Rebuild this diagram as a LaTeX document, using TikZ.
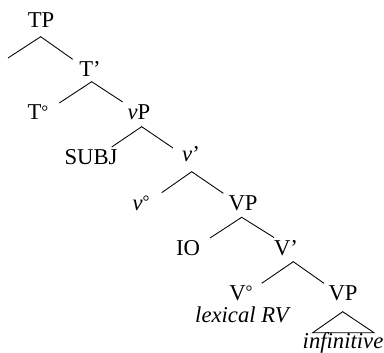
\documentclass[tikz,border=0pt]{standalone}
\usepackage{fontspec}
\setmainfont{Liberation Serif}
\newcommand{\degsym}{{\fontsize{13}{13}\selectfont\raisebox{0.35ex}{°}}}
\begin{document}
\begin{tikzpicture}[x=0.75pt,y=-0.75pt,
  lbl/.style={inner sep=0pt,anchor=base,font=\fontsize{17}{20}\selectfont},
  br/.style={line width=0.65pt,line join=miter}]
\useasboundingbox (0,0) rectangle (384,352);
% labels
\node[lbl] (TP) at (41,28) {TP};
\node[lbl] (Tbar) at (90,77) {T’};
\node[lbl] (Thead) at (38,120) {T\degsym};
\node[lbl] (vP) at (139,120) {\textit{v}P};
\node[lbl] (subj) at (91,165) {SUBJ};
\node[lbl] (vbar) at (191,162) {\textit{v}’};
\node[lbl] (vhead) at (141,210) {\textit{v}\degsym};
\node[lbl] (VP) at (243,210) {VP};
\node[lbl] (IO) at (188,255) {IO};
\node[lbl] (Vbar) at (286,255) {V’};
\node[lbl] (Vhead) at (241,300) {V\degsym};
\node[lbl] (VPinf) at (343,300) {VP};
\node[lbl] (lex) at (243,322) {\textit{lexical RV}};
\node[lbl] (inf) at (343,348.5) {\textit{infinitive}};
% branch points
\coordinate (a1) at (40.7,36.7);
\coordinate (l1) at (8,58);
\coordinate (r1) at (72.7,59.3);
\coordinate (a2) at (91.7,81.7);
\coordinate (l2) at (59.3,103);
\coordinate (r2) at (122.7,102);
\coordinate (a3) at (141.7,126.7);
\coordinate (l3) at (111.7,147);
\coordinate (r3) at (173,148);
\coordinate (a4) at (191.7,171.7);
\coordinate (l4) at (161.7,192.7);
\coordinate (r4) at (223.3,193.3);
\coordinate (a5) at (241.7,217.3);
\coordinate (l5) at (210,238);
\coordinate (r5) at (274,237.5);
\coordinate (a6) at (293.3,261.7);
\coordinate (l6) at (261.7,283.3);
\coordinate (r6) at (324,283.3);
\coordinate (a7) at (342.7,311.7);
\coordinate (l7) at (312.7,332.7);
\coordinate (r7) at (374,332.7);
\draw[br] (l1) -- (a1) -- (r1);
\draw[br] (l2) -- (a2) -- (r2);
\draw[br] (l3) -- (a3) -- (r3);
\draw[br] (l4) -- (a4) -- (r4);
\draw[br] (l5) -- (a5) -- (r5);
\draw[br] (l6) -- (a6) -- (r6);
\draw[br] (l7) -- (a7) -- (r7) -- cycle;
\end{tikzpicture}
\end{document}
